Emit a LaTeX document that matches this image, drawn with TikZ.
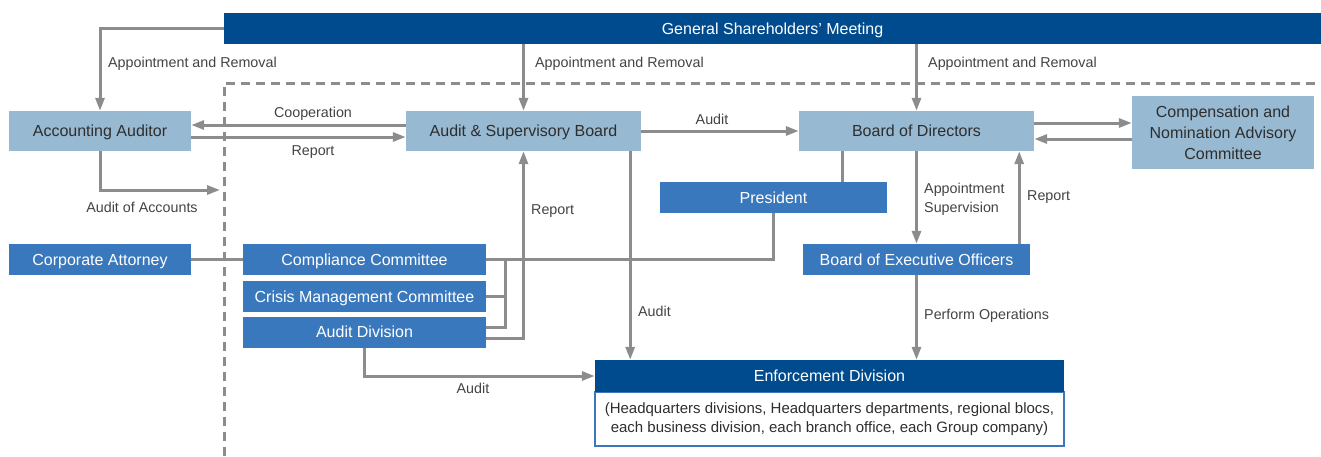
\documentclass[tikz,border=0pt]{standalone}
\usepackage{fontspec}
\setmainfont{Liberation Sans}
\usetikzlibrary{
    arrows.meta,
    positioning
}
\definecolor{deepblue}{HTML}{004B8D}
\definecolor{midblue}{HTML}{3A78BD}
\definecolor{paleblue}{HTML}{97B9D1}
\definecolor{linkgray}{HTML}{8C8C8E}
\definecolor{inkgray}{HTML}{2E2E2E}
\tikzset {
    org box/.style = {
        inner sep = 0pt,
        align = center,
        text height = 11.5pt,
        text depth = 0pt,
        font = \fontsize{16}{21}\selectfont
    },
    free lines/.style = {text height = {}, text depth = {}},
    deep box/.style = {org box, fill = deepblue, text = white},
    mid box/.style = {org box, fill = midblue, text = white},
    pale box/.style = {org box, fill = paleblue, text = inkgray},
    link/.style = {draw = linkgray, line width = 3pt},
    arrowed link/.style = {
        link,
        arrows = {-Triangle[length = 13pt 0 0, width = 9pt 0 0]}
    },
    flow label/.style = {
        inner sep = 0pt,
        anchor = west,
        text height = 10.2pt,
        text depth = 0pt,
        text = inkgray!90,
        font = \fontsize{14.3}{19}\selectfont
    },
    frame line/.style = {
        draw = linkgray,
        line width = 3pt,
        dash pattern = on 9pt off 6pt
    },
    %
}

\begin{document}
\begin{tikzpicture}[x = 1pt, y = -1pt]
    \useasboundingbox (0, 0) rectangle (1321, 456);
    \draw [frame line] (224, 456) -- (224, 83) -- (1317, 83);
    %
    \node (gsm) [deep box, minimum width = 1097pt, minimum height = 31pt]
        at (772.5, 28.5) {General Shareholders’ Meeting};
    \node (aa) [pale box, minimum width = 182pt, minimum height = 40pt]
        at (100, 131) {Accounting Auditor};
    \node (asb) [pale box, minimum width = 235pt, minimum height = 40pt]
        at (523.5, 131) {Audit \& Supervisory Board};
    \node (bod) [pale box, minimum width = 235pt, minimum height = 40pt]
        at (916.5, 131) {Board of Directors};
    \node (cnac) [pale box, free lines, minimum width = 182pt, minimum height = 73pt]
        at (1223, 132.5) {Compensation and\\Nomination Advisory\\Committee};
    \node (pres) [mid box, minimum width = 227pt, minimum height = 31pt]
        at (773.5, 197.5) {President};
    \node (attorney) [mid box, minimum width = 182pt, minimum height = 31pt]
        at (100, 259.5) {Corporate Attorney};
    \node (comp) [mid box, minimum width = 243pt, minimum height = 31pt]
        at (364.5, 259.5) {Compliance Committee};
    \node (crisis) [mid box, minimum width = 243pt, minimum height = 31pt]
        at (364.5, 296.5) {Crisis Management Committee};
    \node (auditdiv) [mid box, minimum width = 243pt, minimum height = 31pt]
        at (364.5, 332) {Audit Division};
    \node (beo) [mid box, minimum width = 227pt, minimum height = 31pt]
        at (916.5, 259.5) {Board of Executive Officers};
    \node (enfbody) [org box, free lines, draw = midblue, line width = 1.5pt,
        text = inkgray, minimum width = 469pt, minimum height = 54pt,
        font = \fontsize{15}{19}\selectfont]
        at (829.5, 419) {(Headquarters divisions, Headquarters departments, regional blocs,\\
        each business division, each branch office, each Group company)};
    \node (enfhead) [deep box, minimum width = 469pt, minimum height = 32pt]
        at (829.5, 376) {Enforcement Division};
    %
    \coordinate (accounts) at (220, 190);
    \coordinate (joint) at (505, 259.5);
    \coordinate (bodfoot) at ([xshift = -74pt]bod.south);
    \coordinate (asbfoot) at ([xshift = -11pt]asb.south east);
    \coordinate (beotop) at ([xshift = -11pt]beo.north east);
    %
    \draw [arrowed link] (gsm.west) -| (aa.north);
    \draw [arrowed link] (asb.north |- gsm.south) -- (asb.north);
    \draw [arrowed link] (bod.north |- gsm.south) -- (bod.north);
    \draw [arrowed link] ([yshift = 6pt]asb.west) -- ([yshift = 6pt]aa.east);
    \draw [arrowed link] ([yshift = -6pt]aa.east) -- ([yshift = -6pt]asb.west);
    \draw [arrowed link] (aa.south) |- (accounts);
    \draw [arrowed link] (asb.east) -- (bod.west);
    \draw [arrowed link] ([yshift = 8pt]bod.east) -- ([yshift = 8pt]bod.east -| cnac.west);
    \draw [arrowed link] ([yshift = -8pt]bod.east -| cnac.west) -- ([yshift = -8pt]bod.east);
    \draw [link] (bodfoot) -- (bodfoot |- pres.north);
    \draw [link] (pres.south) |- (comp.east);
    \draw [link] (attorney.east) -- (comp.west);
    \draw [link] (crisis.east) -- (crisis.east -| joint);
    \draw [link] ([yshift = 5pt]auditdiv.east) -| (joint);
    \draw [arrowed link] ([yshift = -6pt]auditdiv.east) -| (asb.south);
    \draw [arrowed link] (asbfoot) -- (asbfoot |- enfhead.north);
    \draw [arrowed link] (auditdiv.south) |- (enfhead.west);
    \draw [arrowed link] (bod.south) -- (beo.north);
    \draw [arrowed link] (beotop) -- (beotop |- bod.south);
    \draw [arrowed link] (beo.south) -- (beo.south |- enfhead.north);
    %
    \node [flow label] at (108, 62) {Appointment and Removal};
    \node [flow label] at (535, 62) {Appointment and Removal};
    \node [flow label] at (928, 62) {Appointment and Removal};
    \node [flow label, anchor = center] at (313, 112) {Cooperation};
    \node [flow label, anchor = center] at (313, 150) {Report};
    \node [flow label, anchor = center] at (142, 207) {Audit of Accounts};
    \node [flow label, anchor = center] at (712, 119) {Audit};
    \node [flow label] at (531, 209) {Report};
    \node [flow label] at (638, 311) {Audit};
    \node [flow label, anchor = center] at (473, 388) {Audit};
    \node [flow label, free lines, align = left] at (924, 199) {Appointment\\Supervision};
    \node [flow label] at (1027, 195) {Report};
    \node [flow label] at (924, 314) {Perform Operations};
\end{tikzpicture}
\end{document}
